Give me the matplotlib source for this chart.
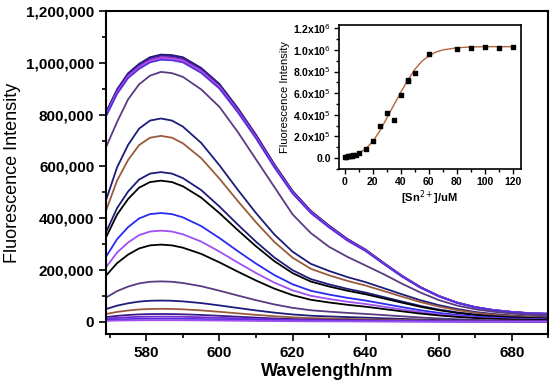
import matplotlib
matplotlib.use("Agg")
import matplotlib.pyplot as plt
from matplotlib.ticker import MultipleLocator, FuncFormatter

plt.rcParams['font.family'] = ['Liberation Sans', 'DejaVu Sans']

# wavelength grid (nm) and normalised spectral shapes
wl = [569, 572, 575, 578, 581, 584, 587, 590, 595, 600, 605, 610, 615, 620,
      625, 630, 635, 640, 645, 650, 655, 660, 665, 670, 675, 680, 685, 690]
shape_broad = [0.785, 0.87, 0.93, 0.965, 0.99, 1.0, 0.998, 0.99, 0.95, 0.89, 0.80, 0.70, 0.59, 0.49,
               0.415, 0.36, 0.31, 0.27, 0.22, 0.172, 0.13, 0.097, 0.072, 0.055, 0.044, 0.037, 0.032, 0.030]
shape_mid = [0.70, 0.80, 0.89, 0.95, 0.985, 1.0, 0.995, 0.98, 0.93, 0.86, 0.76, 0.65, 0.54, 0.43,
             0.355, 0.30, 0.26, 0.225, 0.19, 0.152, 0.117, 0.087, 0.065, 0.05, 0.04, 0.033, 0.028, 0.025]
shape_narrow = [0.60, 0.76, 0.87, 0.95, 0.99, 1.0, 0.99, 0.96, 0.88, 0.77, 0.65, 0.535, 0.43, 0.345,
                0.285, 0.25, 0.22, 0.195, 0.165, 0.135, 0.106, 0.082, 0.063, 0.048, 0.038, 0.031, 0.026, 0.022]

# peak intensity of each spectrum, with its shape and colour
peaks = [1032000, 1028000, 1022000, 1018000, 1012000, 965000, 785000, 718000, 578000, 545000,
         420000, 352000, 298000, 156000, 82000, 50000, 30000, 20000, 12000, 6000]
shapes = ['b', 'b', 'b', 'b', 'b', 'm'] + ['n'] * 14
colors = ['#1c1c7a', '#3a1a8a', '#7a2ad0', '#c050e0', '#5030e0', '#5a3a80', '#1c1c7a', '#9a5a3c',
          '#1c1c7a', 'black', '#2a2af0', '#a050f0', 'black', '#5a3a80', '#1c1c7a', '#9a5a3c',
          '#3a1a8a', '#7a2ad0', '#5030e0', '#a050f0']

# inset: titration points and fitted curve
conc = [0, 1, 2, 3, 4, 5, 6, 8, 10, 15, 20, 25, 30, 35, 40, 45, 45, 50, 60, 80, 90, 100, 110, 120]
inten = [0.01, 0.012, 0.015, 0.018, 0.02, 0.022, 0.025, 0.03, 0.05, 0.08, 0.155, 0.30, 0.42, 0.355,
         0.58, 0.715, 0.725, 0.79, 0.965, 1.01, 1.015, 1.03, 1.02, 1.025]
fit_x = [0, 5, 10, 15, 20, 25, 30, 35, 40, 45, 50, 55, 60, 65, 70, 80, 90, 100, 110, 120]
fit_y = [0.012, 0.025, 0.045, 0.085, 0.155, 0.25, 0.37, 0.49, 0.61, 0.72, 0.82, 0.895, 0.945,
         0.98, 1.0, 1.02, 1.027, 1.03, 1.03, 1.03]

shape_map = {'b': shape_broad, 'm': shape_mid, 'n': shape_narrow}

fig = plt.figure(figsize=(5.5, 3.88), dpi=100)
ax = fig.add_axes([0.193, 0.139, 0.804, 0.8325])
for p, s, c in zip(peaks, shapes, colors):
    ax.plot(wl, [p * v for v in shape_map[s]], color=c, lw=1.3)

ax.set_xlim(569, 690)
ax.set_ylim(-47500, 1200000)
ax.xaxis.set_major_locator(MultipleLocator(20))
ax.xaxis.set_minor_locator(MultipleLocator(10))
ax.yaxis.set_major_locator(MultipleLocator(200000))
ax.yaxis.set_minor_locator(MultipleLocator(100000))
ax.yaxis.set_major_formatter(FuncFormatter(lambda v, pos: f'{int(v):,}'))
ax.tick_params(which='both', direction='out', width=1.2)
ax.tick_params(which='major', length=5, labelsize=11)
ax.tick_params(which='minor', length=3)
for lab in ax.get_xticklabels() + ax.get_yticklabels():
    lab.set_fontweight('bold')
for sp in ax.spines.values():
    sp.set_linewidth(1.5)
ax.set_xlabel('Wavelength/nm', fontsize=13, fontweight='bold', labelpad=2)
ax.set_ylabel('Fluorescence Intensity', fontsize=13, labelpad=4)

ins = fig.add_axes([0.616, 0.5644, 0.331, 0.371])
ins.plot(fit_x, [v * 1e6 for v in fit_y], color='#b5653a', lw=1.0)
ins.scatter(conc, [v * 1e6 for v in inten], s=5, marker='s', color='black', zorder=3)
ins.set_xlim(-4.3, 125.7)
ins.set_ylim(-102000, 1230000)
ins.xaxis.set_major_locator(MultipleLocator(20))
ins.xaxis.set_minor_locator(MultipleLocator(10))
ins.yaxis.set_major_locator(MultipleLocator(200000))
ins.yaxis.set_minor_locator(MultipleLocator(100000))


def sci(v, pos):
    if abs(v) < 1:
        return '0.0'
    e = 6 if v >= 1e6 else 5
    return f'{v / 10 ** e:.1f}x10$^{{{e}}}$'


ins.yaxis.set_major_formatter(FuncFormatter(sci))
ins.tick_params(which='both', direction='out', width=1.0, labelsize=7.5, pad=2)
ins.tick_params(which='major', length=3.5)
ins.tick_params(which='minor', length=2)
for lab in ins.get_xticklabels() + ins.get_yticklabels():
    lab.set_fontweight('bold')
for sp in ins.spines.values():
    sp.set_linewidth(1.2)
ins.set_xlabel('[Sn$^{2+}$]/uM', fontsize=8, fontweight='bold', labelpad=1)
ins.set_ylabel('Fluorescence Intensity', fontsize=8, labelpad=2)

fig.savefig('out.png', dpi=100)
